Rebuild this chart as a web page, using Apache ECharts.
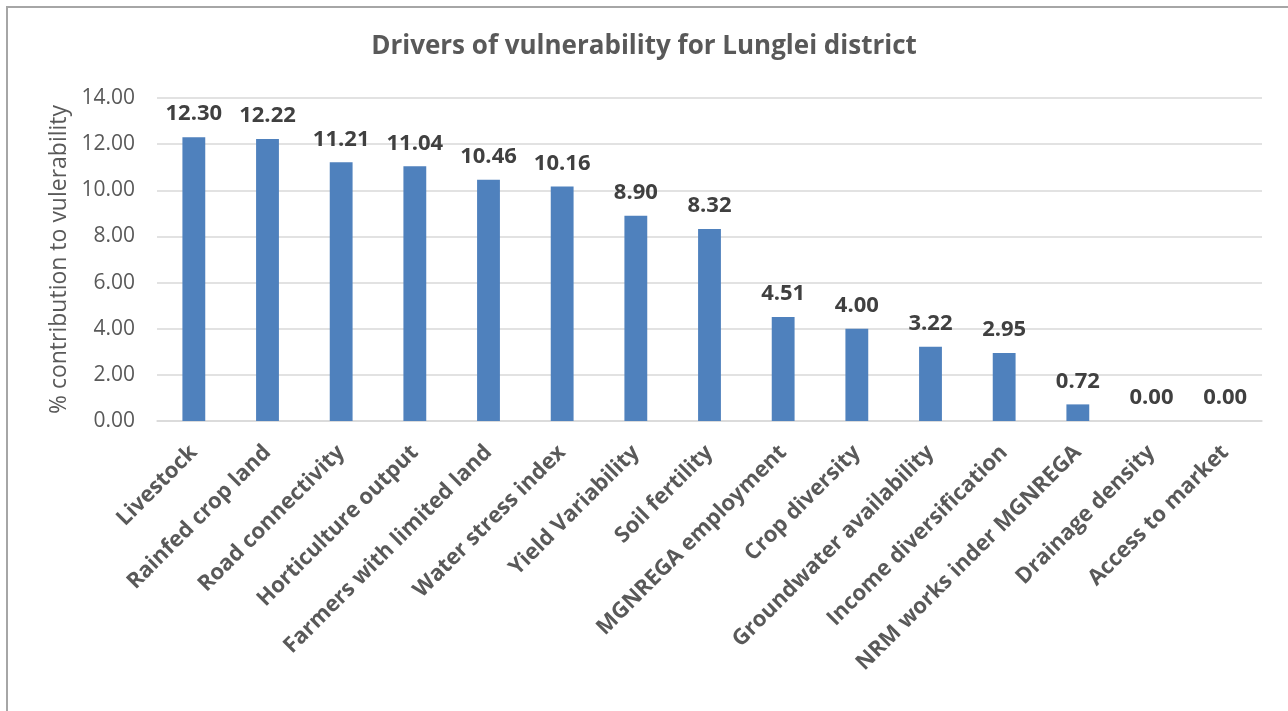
<!DOCTYPE html>
<html>
<head>
<meta charset="utf-8">
<script src="https://cdn.jsdelivr.net/npm/echarts@6/dist/echarts.min.js"></script>
<style>
  html, body { margin: 0; padding: 0; background: #fff; overflow: hidden; }
  #frame { position: absolute; left: 6px; top: 6px; width: 1320px; height: 740px; border: 2px solid #a6a6a6; box-sizing: border-box; }
  #chart { position: absolute; left: 0; top: 0; width: 1288px; height: 711px; }
</style>
</head>
<body>
<div id="frame"></div>
<div id="chart"></div>
<script>
const categories = [
  'Livestock', 'Rainfed crop land', 'Road connectivity', 'Horticulture output',
  'Farmers with limited land', 'Water stress index', 'Yield Variability', 'Soil fertility',
  'MGNREGA employment', 'Crop diversity', 'Groundwater availability', 'Income diversification',
  'NRM works inder MGNREGA', 'Drainage density', 'Access to market'
];
const contribution = [12.30, 12.22, 11.21, 11.04, 10.46, 10.16, 8.90, 8.32, 4.51, 4.00, 3.22, 2.95, 0.72, 0.00, 0.00];
const yTicks = { min: 0, max: 14, interval: 2 };

const font = '"Open Sans", "Liberation Sans", sans-serif';
const chart = echarts.init(document.getElementById('chart'), null, { renderer: 'canvas' });
chart.setOption({
  animation: false,
  backgroundColor: 'transparent',
  title: {
    text: 'Drivers of vulnerability for Lunglei district',
    left: 'center',
    top: 29,
    textStyle: { fontFamily: font, fontSize: 26, fontWeight: 'bold', color: '#595959' }
  },
  grid: { left: 157, right: 26, top: 98, bottom: 290, containLabel: false },
  xAxis: {
    type: 'category',
    data: categories,
    axisLine: { lineStyle: { color: '#d9d9d9', width: 1.5 } },
    axisTick: { show: false },
    axisLabel: {
      rotate: 45,
      interval: 0,
      margin: 28,
      fontFamily: font,
      fontSize: 22,
      fontWeight: 'bold',
      color: '#595959'
    }
  },
  yAxis: {
    type: 'value',
    min: yTicks.min,
    max: yTicks.max,
    interval: yTicks.interval,
    name: '% contribution to vulerability',
    nameLocation: 'middle',
    nameGap: 84,
    nameTextStyle: { fontFamily: font, fontSize: 23, color: '#595959' },
    axisLine: { show: false },
    axisTick: { show: false },
    axisLabel: {
      margin: 22,
      fontFamily: font,
      fontSize: 21,
      color: '#595959',
      formatter: v => v.toFixed(2)
    },
    splitLine: { lineStyle: { color: '#d9d9d9', width: 1.5 } }
  },
  series: [{
    type: 'bar',
    data: contribution,
    barWidth: '31%',
    itemStyle: { color: '#4f81bd' },
    label: {
      show: true,
      position: 'top',
      distance: 12,
      fontFamily: font,
      fontSize: 22,
      fontWeight: 'bold',
      color: '#404040',
      formatter: p => p.value.toFixed(2)
    }
  }]
});
</script>
</body>
</html>
